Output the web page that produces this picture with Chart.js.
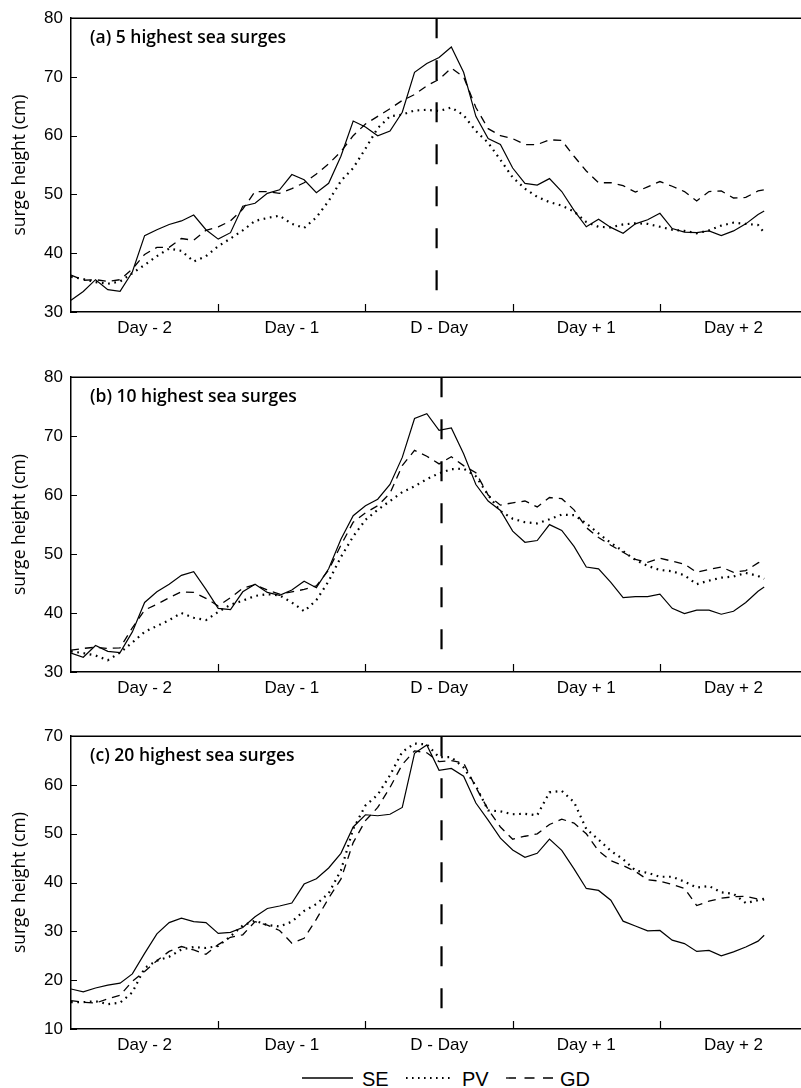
<!DOCTYPE html>
<html><head><meta charset="utf-8">
<script src="https://cdn.jsdelivr.net/npm/chart.js@4.4.1/dist/chart.umd.min.js"></script>
<style>
html,body{margin:0;padding:0;background:#fff;}
body{width:801px;height:1088px;position:relative;overflow:hidden;}
canvas{position:absolute;left:0;}
#legend{position:absolute;left:0;top:1064px;}
</style></head><body>
<canvas id="ca" width="801" height="346" style="top:0px"></canvas>
<canvas id="cb" width="801" height="347" style="top:359px"></canvas>
<canvas id="cc" width="801" height="345" style="top:718px"></canvas>
<svg id="legend" width="801" height="24" xmlns="http://www.w3.org/2000/svg">
  <line x1="302" y1="14" x2="353" y2="14" stroke="#000" stroke-width="1.3"/>
  <text x="362" y="21.5" font-family="Liberation Sans, Arial" font-size="20">SE</text>
  <line x1="406" y1="14" x2="453" y2="14" stroke="#000" stroke-width="2" stroke-dasharray="1.6 4.4"/>
  <text x="462" y="21.5" font-family="Liberation Sans, Arial" font-size="20">PV</text>
  <line x1="506" y1="14" x2="553" y2="14" stroke="#000" stroke-width="1.3" stroke-dasharray="10 8.5"/>
  <text x="560" y="21.5" font-family="Liberation Sans, Arial" font-size="20">GD</text>
</svg>
<script>
// ---- data (hours relative to D-Day) ----
const hours = [-60,-58,-56,-54,-52,-50,-48,-46,-44,-42,
               -40,-38,-36,-34,-32,-30,-28,-26,-24,-22,
               -20,-18,-16,-14,-12,-10,-8,-6,-4,-2,
               0,2,4,6,8,10,12,14,16,18,
               20,22,24,26,28,30,32,34,36,38,
               40,42,44,46,48,50,52,53];
const dayCenters = [-48,-24,0,24,48];
const dayLabels = ['Day - 2','Day - 1','D - Day','Day + 1','Day + 2'];
const dayBounds = [-36,-12,12,36];
const seriesNames = ['SE','PV','GD'];
const panelTitles = ['(a) 5 highest sea surges','(b) 10 highest sea surges','(c) 20 highest sea surges'];
const yRanges = [[30,80],[30,80],[10,70]];
const dDayLine = [-0.4, 0.4, 0.4];

const SE_a = [32.0,33.5,35.5,33.8,33.5,36.8,43.0,44.0,44.9,45.5,
              46.5,44.0,42.4,43.5,48.0,48.5,50.2,50.8,53.4,52.5,
              50.3,51.9,56.5,62.5,61.5,60.0,60.8,64.0,70.8,72.3,
              73.3,75.1,70.8,63.3,59.5,58.5,54.5,51.9,51.6,52.7,
              50.5,47.3,44.5,45.8,44.4,43.4,45.0,45.7,46.8,44.2,
              43.6,43.5,43.8,43.0,43.8,45.0,46.6,47.2];
const PV_a = [36.0,35.6,35.1,34.8,35.2,36.6,38.0,39.5,40.8,40.4,
              38.6,39.5,41.2,42.5,43.9,45.5,46.0,46.4,45.0,44.3,
              46.1,48.9,52.3,54.5,57.8,61.3,63.3,63.6,64.3,64.4,
              64.2,64.8,63.5,60.8,58.8,55.9,52.9,51.0,49.6,48.7,
              48.1,47.1,45.3,44.5,44.4,44.9,45.1,45.0,44.5,44.0,
              43.8,43.4,43.9,44.7,45.2,45.0,44.8,43.5];
const GD_a = [36.3,35.4,35.5,35.2,35.5,37.3,39.8,41.0,41.0,42.5,
              42.2,43.9,44.5,45.5,47.5,50.5,50.5,50.2,51.0,52.0,
              53.5,55.2,57.3,60.0,62.0,63.3,64.6,66.0,67.0,68.5,
              69.6,71.5,70.0,64.8,61.2,60.0,59.5,58.5,58.5,59.3,
              59.2,56.5,54.0,52.0,52.0,51.5,50.4,51.3,52.2,51.4,
              50.5,48.9,50.5,50.6,49.4,49.5,50.6,50.8];

const SE_b = [33.2,32.5,34.5,33.5,33.3,36.8,41.8,43.6,44.9,46.4,
              47.0,44.0,40.8,40.6,43.6,44.9,43.5,43.0,43.9,45.4,
              44.3,47.5,52.5,56.5,58.2,59.3,61.8,66.4,73.0,73.8,
              71.0,71.4,67.0,61.8,59.0,57.4,53.9,52.0,52.3,55.0,
              54.0,51.3,47.8,47.5,45.2,42.6,42.8,42.8,43.2,40.8,
              39.9,40.5,40.5,39.8,40.3,41.8,43.7,44.4];
const PV_b = [33.5,33.2,32.8,32.0,33.3,35.0,36.8,37.8,38.8,40.0,
              39.2,38.8,40.2,41.4,42.1,42.9,43.2,43.0,41.8,40.3,
              42.2,45.4,49.5,53.0,55.8,57.5,59.0,60.5,61.5,62.7,
              63.7,64.4,64.5,63.2,60.0,57.3,56.0,55.4,55.2,55.9,
              56.7,56.6,55.2,53.5,51.9,50.5,49.0,48.0,47.3,47.1,
              46.4,44.9,45.5,46.0,46.2,46.8,46.3,45.8];
const GD_b = [33.7,34.0,34.2,34.0,34.1,37.5,40.5,41.5,42.6,43.6,
              43.5,42.5,41.2,42.6,44.2,44.8,43.9,43.2,43.6,44.0,
              44.6,47.3,51.5,55.4,57.0,58.2,60.3,65.0,67.6,66.6,
              65.3,66.5,65.0,63.8,60.0,58.3,58.7,59.0,58.0,59.6,
              59.4,57.5,54.5,52.8,51.5,50.3,49.1,48.6,49.3,48.8,
              48.3,46.9,47.4,47.8,46.9,47.2,48.5,49.0];

const SE_c = [18.2,17.6,18.4,19.0,19.4,21.3,25.5,29.5,31.8,32.7,
              32.0,31.8,29.6,29.8,30.8,33.0,34.7,35.2,35.8,39.7,
              40.8,43.0,46.0,51.4,53.9,53.7,54.0,55.4,66.5,68.2,
              63.0,63.4,61.8,56.3,52.8,49.1,46.7,45.2,46.0,48.9,
              46.6,42.8,38.8,38.4,36.4,32.1,31.1,30.1,30.2,28.2,
              27.5,25.9,26.1,25.0,25.8,26.8,28.0,29.2];
const PV_c = [15.5,15.5,15.7,15.1,15.4,17.5,22.5,24.0,24.8,26.3,
              26.8,26.6,27.0,29.0,31.2,32.2,31.3,31.0,32.0,34.2,
              35.6,37.8,42.5,51.0,55.8,58.0,62.0,66.8,68.5,68.3,
              65.7,65.7,63.6,59.8,54.8,54.6,54.0,54.1,53.8,58.5,
              58.8,56.5,51.0,48.8,46.5,44.8,42.5,42.0,41.2,41.2,
              40.2,39.0,39.3,38.0,37.7,35.8,36.4,36.7];
const GD_c = [15.8,15.5,15.3,16.2,16.9,19.8,21.8,24.0,25.9,26.9,
              26.2,25.3,27.3,28.8,29.3,32.0,31.3,30.2,27.6,28.6,
              32.5,36.8,40.7,48.2,52.7,55.4,59.5,64.2,67.0,66.6,
              64.8,65.0,64.5,59.5,55.0,51.4,48.9,49.5,50.0,51.9,
              53.0,52.2,50.0,46.5,44.5,43.5,42.3,40.6,40.3,39.6,
              38.8,35.3,36.2,36.8,37.1,37.2,36.6,36.4];

// ---- drawing ----
const tickFont = {family:'"Liberation Sans", Arial, sans-serif', size:17};

const framePlugin = {
  id:'frame',
  afterDatasetsDraw(chart, args, opts){
    const {ctx, chartArea:{left,right,top,bottom}, scales:{x,y}} = chart;
    ctx.save();
    ctx.strokeStyle = '#000';
    ctx.lineWidth = 1.5;
    ctx.beginPath(); ctx.moveTo(left, top); ctx.lineTo(right, top); ctx.stroke();
    ctx.lineWidth = 1.2;
    ctx.beginPath();
    y.ticks.forEach(t => { const py = Math.round(y.getPixelForValue(t.value)) + 0.5; ctx.moveTo(left, py); ctx.lineTo(left + 6, py); });
    dayBounds.forEach(v => { const px = Math.round(x.getPixelForValue(v)) + 0.5; ctx.moveTo(px, bottom); ctx.lineTo(px, bottom - 8); });
    ctx.stroke();
    const dx = x.getPixelForValue(opts.dLine);
    ctx.setLineDash([20, 22]);
    ctx.lineWidth = 2.2;
    ctx.beginPath(); ctx.moveTo(dx, top); ctx.lineTo(dx, bottom); ctx.stroke();
    ctx.setLineDash([]);
    ctx.fillStyle = '#000';
    ctx.font = '600 17.5px "Open Sans", "Noto Sans", sans-serif';
    ctx.textBaseline = 'middle';
    ctx.textAlign = 'left';
    ctx.fillText(opts.title, left + 19, top + 19.5);
    ctx.restore();
  }
};

function toPts(vals){ return hours.map((h, i) => ({x: h, y: vals[i]})); }

function makeChart(id, idx, se, pv, gd){
  return new Chart(document.getElementById(id), {
    type: 'line',
    data: { datasets: [
      {label: seriesNames[0], data: toPts(se), borderColor:'#000', borderWidth:1.2, pointRadius:0, fill:false, tension:0},
      {label: seriesNames[1], data: toPts(pv), borderColor:'#000', borderWidth:2.2, borderDash:[1.7,4.6], pointRadius:0, fill:false, tension:0},
      {label: seriesNames[2], data: toPts(gd), borderColor:'#000', borderWidth:1.3, borderDash:[8,6], pointRadius:0, fill:false, tension:0}
    ]},
    options: {
      responsive:false, animation:false, devicePixelRatio:1,
      layout:{padding:{top:14, left:0, right:0, bottom:0}},
      plugins:{legend:{display:false}, tooltip:{enabled:false}, frame:{title: panelTitles[idx], dLine: dDayLine[idx]}},
      scales:{
        x:{type:'linear', min:-60, max:59,
           grid:{display:false, drawTicks:false},
           border:{display:true, color:'#000', width:1.5},
           afterBuildTicks: s => { s.ticks = dayCenters.map(v => ({value:v})); },
           ticks:{callback: v => dayLabels[dayCenters.indexOf(v)], font: tickFont, color:'#000', padding:6, maxRotation:0, autoSkip:false},
           afterFit: s => { s.height = 34; }
        },
        y:{min: yRanges[idx][0], max: yRanges[idx][1],
           grid:{display:false, drawTicks:false},
           border:{display:true, color:'#000', width:1.5},
           ticks:{stepSize:10, font: tickFont, color:'#000', padding:8},
           title:{display:true, text:'surge height (cm)', color:'#000', font:{family:'"Open Sans", "Noto Sans", sans-serif', size:17.5}, padding:{top:10, bottom:0}},
           afterFit: s => { s.width = 71; }
        }
      }
    },
    plugins:[framePlugin]
  });
}

makeChart('ca', 0, SE_a, PV_a, GD_a);
makeChart('cb', 1, SE_b, PV_b, GD_b);
makeChart('cc', 2, SE_c, PV_c, GD_c);
</script>
</body></html>
